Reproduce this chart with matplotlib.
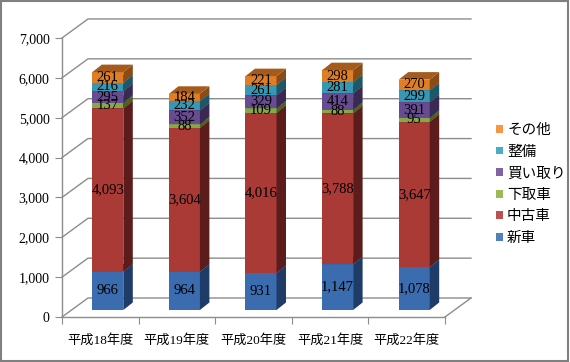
import numpy as np
import matplotlib
matplotlib.use("Agg")
import matplotlib.pyplot as plt
from matplotlib.patches import Polygon, Patch, Rectangle

plt.rcParams['font.family'] = ['Liberation Serif', 'Noto Sans CJK JP']

# data
categories = ['平成18年度', '平成19年度', '平成20年度', '平成21年度', '平成22年度']
shinsha = [966, 964, 931, 1147, 1078]
chuko = [4093, 3604, 4016, 3788, 3647]
shitadori = [137, 88, 109, 88, 95]
kaitori = [295, 352, 329, 414, 391]
seibi = [216, 232, 261, 281, 299]
sonota = [261, 184, 221, 298, 270]
series_names = ['新車', '中古車', '下取車', '買い取り', '整備', 'その他']
yticks = np.arange(0, 7001, 1000)

series = [shinsha, chuko, shitadori, kaitori, seibi, sonota]
legend_colors = ['#4F81BD', '#C0504D', '#9BBB59', '#8064A2', '#4BACC6', '#F79646']
front_colors = ['#3B6CB0', '#A93A36', '#86A847', '#684C91', '#3898B3', '#DE7E27']
side_colors = ['#1F3C69', '#5C1C1B', '#4A6224', '#3A2952', '#1D5868', '#8A4B14']
top_colors = ['#2E5590', '#7E2A28', '#6A8A36', '#503A72', '#2B7A90', '#A65A1C']

W, H = 570, 362
fig = plt.figure(figsize=(W / 100, H / 100), dpi=100)
fig.patches.append(Rectangle((0.002, 0.003), 0.995, 0.993, transform=fig.transFigure,
                             fill=False, edgecolor='#808080', linewidth=1.5))

# axes box in pixels
px_l, px_r, px_t, px_b = 62, 472, 18, 317
ax = fig.add_axes([px_l / W, (H - px_b) / H, (px_r - px_l) / W, (px_b - px_t) / H])
ux = 76.6          # px per category
uy = 39.86 / 1000  # px per value unit
ax.set_xlim(0, (px_r - px_l) / ux)
ax.set_ylim(0, (px_b - px_t) / uy)
ax.patch.set_alpha(0)

# depth offsets (data units)
DX, DY = 26 / ux, 19 / uy
BX, BY = 7.5 / ux, 7 / uy
BW = 31 / ux
bdx, bdy = 9.5 / ux, 7.5 / uy

grid_c = '#8C8C8C'
n = len(categories)

# walls / floor
for v in yticks:
    ax.plot([0, DX, n + DX], [v, v + DY, v + DY], color=grid_c, lw=1, zorder=1, clip_on=False)
ax.plot([n, n + DX], [0, DY], color=grid_c, lw=1, zorder=1, clip_on=False)

# bars
for i in range(n):
    x0 = i + 0.5 + BX - BW / 2
    bottom = 0
    for k, vals in enumerate(series):
        v = vals[i]
        yb = bottom + BY
        yt = yb + v
        ax.bar(x0, v, width=BW, bottom=yb, align='edge', color=front_colors[k],
               linewidth=0, zorder=2)
        ax.add_patch(Polygon([(x0 + BW, yb), (x0 + BW + bdx, yb + bdy),
                              (x0 + BW + bdx, yt + bdy), (x0 + BW, yt)],
                             closed=True, facecolor=side_colors[k], linewidth=0, zorder=2))
        ax.add_patch(Polygon([(x0, yt), (x0 + bdx, yt + bdy), (x0 + BW + bdx, yt + bdy),
                              (x0 + BW, yt)],
                             closed=True, facecolor=top_colors[k], linewidth=0, zorder=2))
        ax.text(x0 + BW / 2, (yb + yt) / 2, f'{v:,}', ha='center', va='center',
                fontsize=10.5, color='black', zorder=3)
        bottom += v

# axes styling
for s in ['top', 'right']:
    ax.spines[s].set_visible(False)
ax.spines['left'].set_bounds(0, 7000)
ax.spines['bottom'].set_bounds(0, n)
for s in ['left', 'bottom']:
    ax.spines[s].set_color(grid_c)
    ax.spines[s].set_linewidth(1)
ax.set_yticks(yticks)
ax.set_yticklabels([f'{v:,}' for v in yticks], fontsize=10)
ax.tick_params(axis='y', direction='out', length=5, color=grid_c, pad=4)
ax.set_xticks(np.arange(0, n + 1))
ax.set_xticklabels([])
ax.set_xticks(np.arange(n) + 0.5, minor=True)
ax.set_xticklabels(categories, minor=True, fontsize=9.5)
ax.tick_params(axis='x', which='major', direction='out', length=5, color=grid_c)
ax.tick_params(axis='x', which='minor', length=0, pad=12)

# legend
handles = [Patch(facecolor=legend_colors[k], label=series_names[k]) for k in range(len(series))][::-1]
fig.legend(handles=handles, loc='upper left', bbox_to_anchor=(483 / W, 1 - 110 / H),
           frameon=False, handlelength=0.45, handleheight=0.45,
           handletextpad=0.3, labelspacing=0.52, prop={'family': ['Noto Sans CJK JP'], 'size': 10.5})

fig.savefig('out.png', dpi=100)
